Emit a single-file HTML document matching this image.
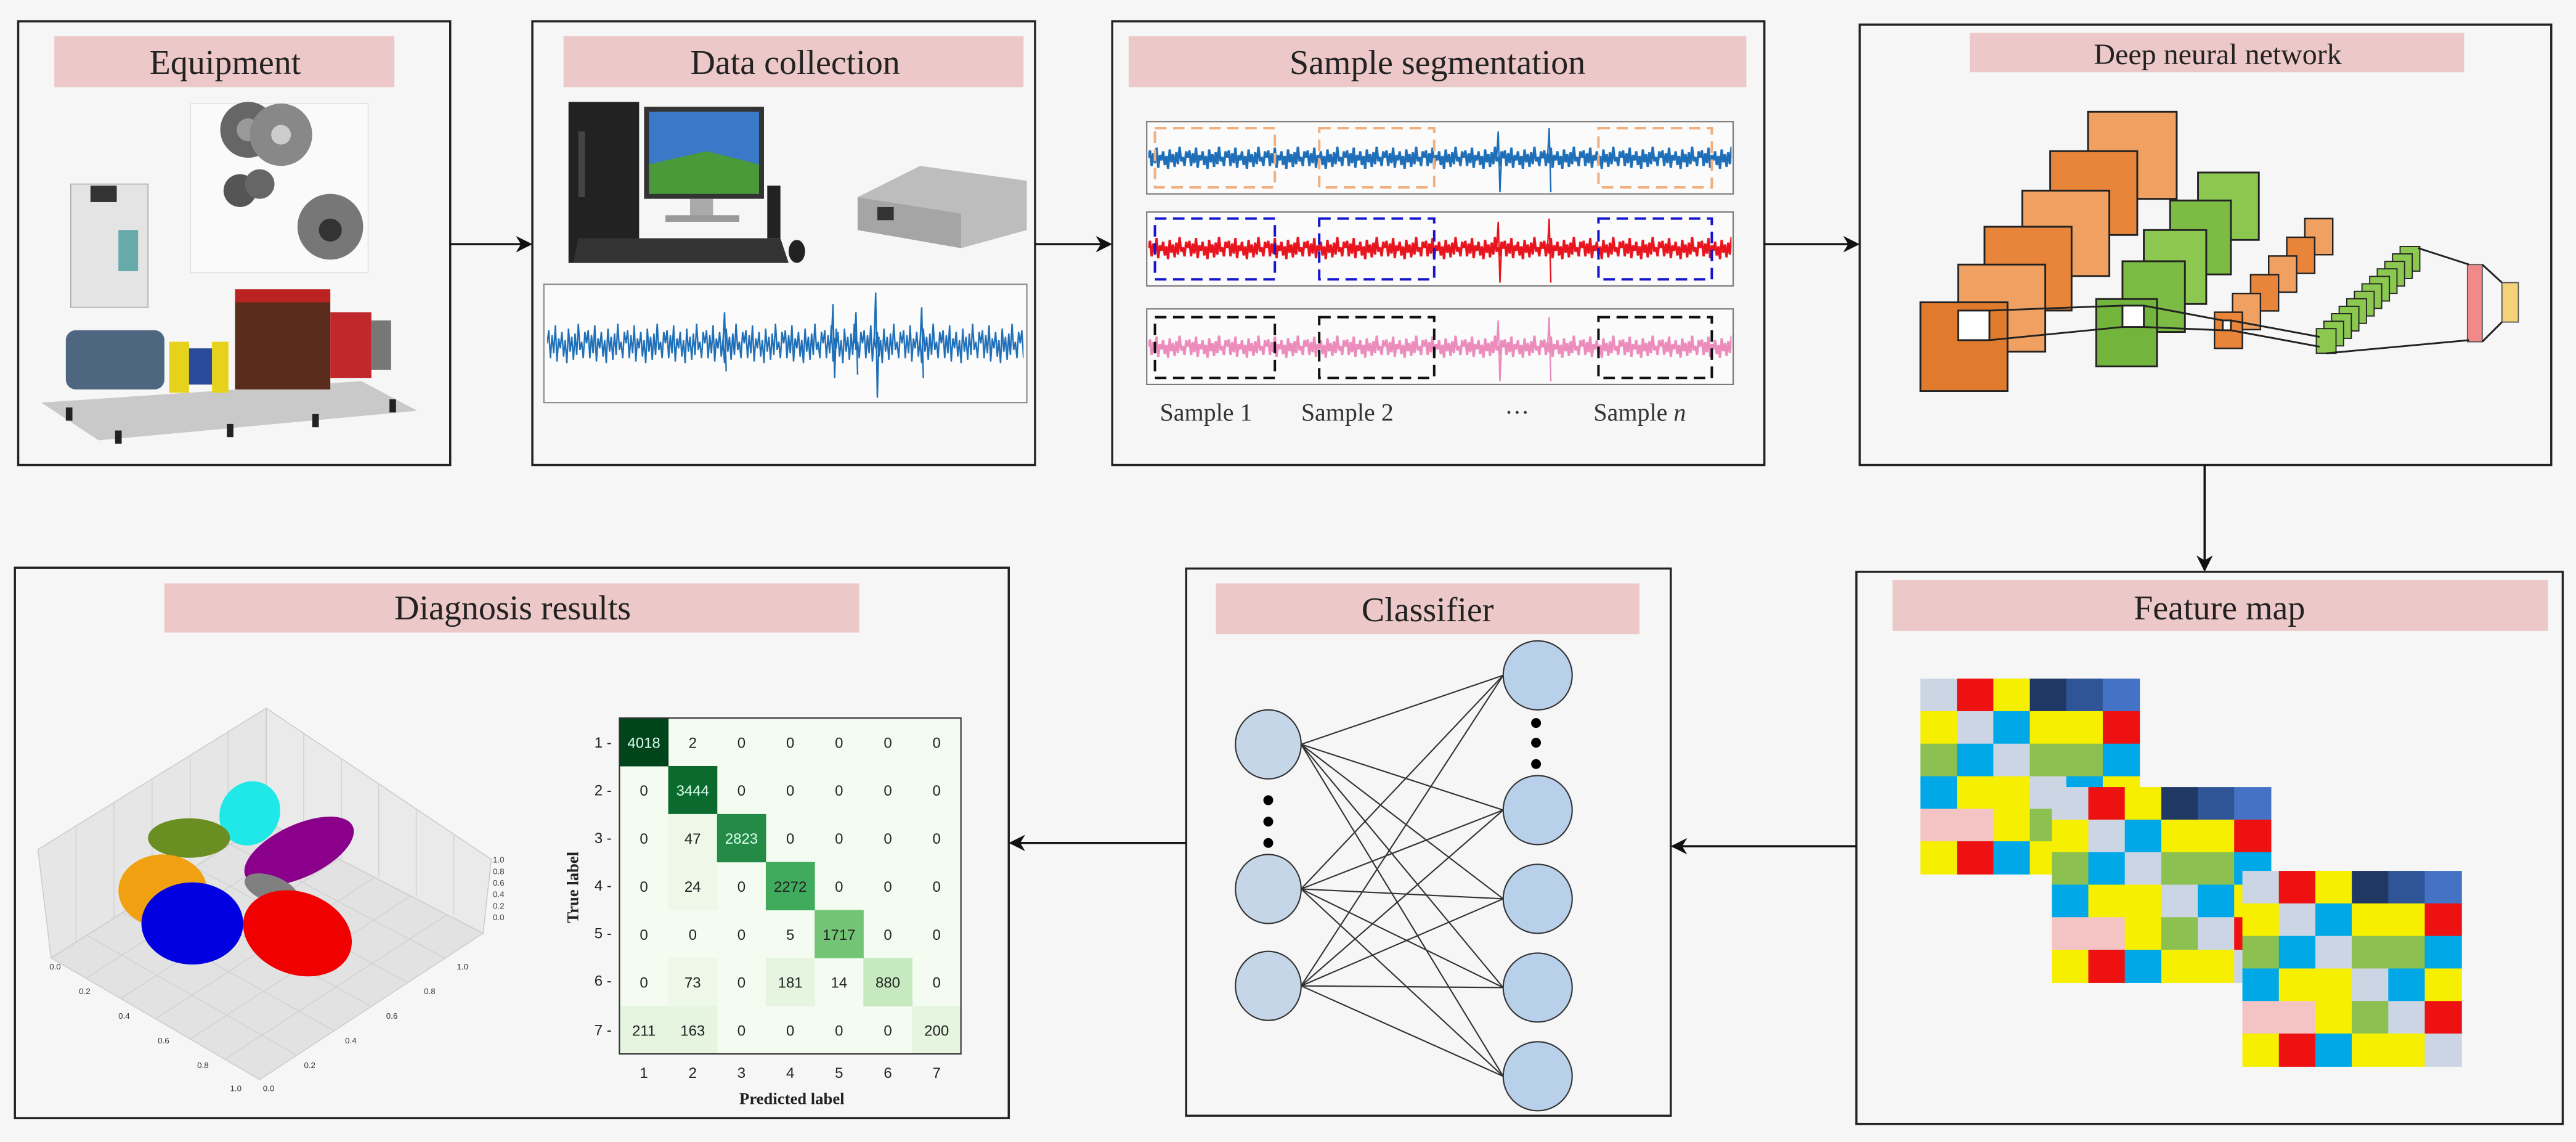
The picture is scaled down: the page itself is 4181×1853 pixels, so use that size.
<!DOCTYPE html>
<html><head><meta charset="utf-8">
<style>
html,body{margin:0;padding:0;background:#f6f6f6;}
svg{display:block;}
.t{font-family:"Liberation Serif",serif;font-size:21px;fill:#222;text-anchor:middle;}
.s{font-family:"Liberation Serif",serif;font-size:15px;fill:#333;}
.cm{font-family:"Liberation Sans",sans-serif;font-size:9px;text-anchor:middle;fill:#222;}
.cw{font-family:"Liberation Sans",sans-serif;font-size:9px;text-anchor:middle;fill:#dfe;}
.tk{font-family:"Liberation Sans",sans-serif;font-size:5px;fill:#333;}
</style></head>
<body>
<svg width="4181" height="1853" viewBox="0 0 1568 695" xmlns="http://www.w3.org/2000/svg" xmlns:xlink="http://www.w3.org/1999/xlink">
<defs>
<marker id="ah" markerWidth="10" markerHeight="10" refX="9" refY="5" orient="auto" markerUnits="userSpaceOnUse">
<path d="M0,0 L10,5 L0,10 L3,5 Z" fill="#111"/>
</marker>
<pattern id="pw1" patternUnits="userSpaceOnUse" x="333" y="193" width="24" height="32">
<polyline points="0,16 1,8 2,25 3,11 4,22 5,5 6,27 7,13 8,19 9,9 10,24 11,14 12,28 13,7 14,21 15,12 16,26 17,10 18,23 19,4 20,20 21,15 22,25 23,9 24,16" fill="none" stroke="#1f6fb8" stroke-width="0.9"/>
</pattern>
<pattern id="pb" patternUnits="userSpaceOnUse" x="699" y="87" width="24" height="18">
<polyline transform="scale(1,0.5625)" points="0,16 1,8 2,25 3,11 4,22 5,5 6,27 7,13 8,19 9,9 10,24 11,14 12,28 13,7 14,21 15,12 16,26 17,10 18,23 19,4 20,20 21,15 22,25 23,9 24,16" fill="none" stroke="#1f6fb8" stroke-width="1.4"/>
</pattern>
<pattern id="pr" patternUnits="userSpaceOnUse" x="699" y="142" width="24" height="18">
<polyline transform="scale(1,0.5625)" points="0,16 1,8 2,25 3,11 4,22 5,5 6,27 7,13 8,19 9,9 10,24 11,14 12,28 13,7 14,21 15,12 16,26 17,10 18,23 19,4 20,20 21,15 22,25 23,9 24,16" fill="none" stroke="#e8141e" stroke-width="1.4"/>
</pattern>
<pattern id="pp" patternUnits="userSpaceOnUse" x="699" y="202" width="24" height="18">
<polyline transform="scale(1,0.5625)" points="0,16 1,8 2,25 3,11 4,22 5,5 6,27 7,13 8,19 9,9 10,24 11,14 12,28 13,7 14,21 15,12 16,26 17,10 18,23 19,4 20,20 21,15 22,25 23,9 24,16" fill="none" stroke="#ec8cbc" stroke-width="1.4"/>
</pattern>
<g id="fmg">
<rect x="0" y="0" width="22.6" height="20.2" fill="#ccd5e3"/><rect x="22.2" y="0" width="22.6" height="20.2" fill="#ee1111"/><rect x="44.4" y="0" width="22.6" height="20.2" fill="#f6f000"/><rect x="66.6" y="0" width="22.6" height="20.2" fill="#1f3864"/><rect x="88.8" y="0" width="22.6" height="20.2" fill="#2f5597"/><rect x="111" y="0" width="22.6" height="20.2" fill="#4472c4"/>
<rect x="0" y="19.8" width="22.6" height="20.2" fill="#f6f000"/><rect x="22.2" y="19.8" width="22.6" height="20.2" fill="#ccd5e3"/><rect x="44.4" y="19.8" width="22.6" height="20.2" fill="#00a8e8"/><rect x="66.6" y="19.8" width="22.6" height="20.2" fill="#f6f000"/><rect x="88.8" y="19.8" width="22.6" height="20.2" fill="#f6f000"/><rect x="111" y="19.8" width="22.6" height="20.2" fill="#ee1111"/>
<rect x="0" y="39.6" width="22.6" height="20.2" fill="#8cc050"/><rect x="22.2" y="39.6" width="22.6" height="20.2" fill="#00a8e8"/><rect x="44.4" y="39.6" width="22.6" height="20.2" fill="#ccd5e3"/><rect x="66.6" y="39.6" width="22.6" height="20.2" fill="#8cc050"/><rect x="88.8" y="39.6" width="22.6" height="20.2" fill="#8cc050"/><rect x="111" y="39.6" width="22.6" height="20.2" fill="#00a8e8"/>
<rect x="0" y="59.4" width="22.6" height="20.2" fill="#00a8e8"/><rect x="22.2" y="59.4" width="22.6" height="20.2" fill="#f6f000"/><rect x="44.4" y="59.4" width="22.6" height="20.2" fill="#f6f000"/><rect x="66.6" y="59.4" width="22.6" height="20.2" fill="#ccd5e3"/><rect x="88.8" y="59.4" width="22.6" height="20.2" fill="#00a8e8"/><rect x="111" y="59.4" width="22.6" height="20.2" fill="#f6f000"/>
<rect x="0" y="79.2" width="22.6" height="20.2" fill="#f4c4c4"/><rect x="22.2" y="79.2" width="22.6" height="20.2" fill="#f4c4c4"/><rect x="44.4" y="79.2" width="22.6" height="20.2" fill="#f6f000"/><rect x="66.6" y="79.2" width="22.6" height="20.2" fill="#8cc050"/><rect x="88.8" y="79.2" width="22.6" height="20.2" fill="#ccd5e3"/><rect x="111" y="79.2" width="22.6" height="20.2" fill="#ee1111"/>
<rect x="0" y="99" width="22.6" height="20.2" fill="#f6f000"/><rect x="22.2" y="99" width="22.6" height="20.2" fill="#ee1111"/><rect x="44.4" y="99" width="22.6" height="20.2" fill="#00a8e8"/><rect x="66.6" y="99" width="22.6" height="20.2" fill="#f6f000"/><rect x="88.8" y="99" width="22.6" height="20.2" fill="#f6f000"/><rect x="111" y="99" width="22.6" height="20.2" fill="#ccd5e3"/>
</g>
</defs>
<rect width="1568" height="695" fill="#f6f6f6"/>

<!-- Boxes -->
<g fill="none" stroke="#222" stroke-width="1.3">
<rect x="11" y="13" width="263" height="270"/>
<rect x="324" y="13" width="306" height="270"/>
<rect x="677" y="13" width="397" height="270"/>
<rect x="1132" y="15" width="421" height="268"/>
<rect x="1130" y="348" width="430" height="336"/>
<rect x="722" y="346" width="295" height="333"/>
<rect x="9" y="345.5" width="605" height="335"/>
</g>

<!-- Title bands -->
<g fill="#ecc8c8">
<rect x="33" y="22" width="207" height="31"/>
<rect x="343" y="22" width="280" height="31"/>
<rect x="687" y="22" width="376" height="31"/>
<rect x="1199" y="20" width="301" height="24"/>
<rect x="1152" y="353" width="399" height="31"/>
<rect x="740" y="355" width="258" height="31"/>
<rect x="100" y="355" width="423" height="30"/>
</g>
<text class="t" x="137" y="45">Equipment</text>
<text class="t" x="484" y="45">Data collection</text>
<text class="t" x="875" y="45">Sample segmentation</text>
<text class="t" x="1350" y="39" style="font-size:18px">Deep neural network</text>
<text class="t" x="1351" y="377">Feature map</text>
<text class="t" x="869" y="378">Classifier</text>
<text class="t" x="312" y="377">Diagnosis results</text>

<!-- Arrows -->
<g stroke="#111" stroke-width="1.3" fill="none">
<line x1="274" y1="148.6" x2="323" y2="148.6" marker-end="url(#ah)"/>
<line x1="630" y1="148.6" x2="676" y2="148.6" marker-end="url(#ah)"/>
<line x1="1074" y1="148.6" x2="1131" y2="148.6" marker-end="url(#ah)"/>
<line x1="1342" y1="283" x2="1342" y2="347" marker-end="url(#ah)"/>
<line x1="1130" y1="515" x2="1018" y2="515" marker-end="url(#ah)"/>
<line x1="722" y1="513" x2="615" y2="513" marker-end="url(#ah)"/>
</g>

<!-- Equipment images -->
<rect x="116" y="63" width="108" height="103" fill="#fafafa" stroke="#ddd" stroke-width="0.5"/>
<circle cx="151" cy="79" r="17" fill="#666"/><circle cx="151" cy="79" r="7" fill="#999"/>
<circle cx="171" cy="82" r="19" fill="#888"/><circle cx="171" cy="82" r="6" fill="#ccc"/>
<circle cx="146" cy="116" r="10" fill="#555"/><circle cx="158" cy="112" r="9" fill="#666"/>
<circle cx="201" cy="138" r="20" fill="#777"/><circle cx="201" cy="140" r="7" fill="#333"/>
<polygon points="25,245 220,232 254,250 60,268" fill="#c9c9c9"/>
<rect x="43" y="112" width="47" height="75" fill="#e4e4e4" stroke="#aaa" stroke-width="0.6"/>
<rect x="55" y="113" width="16" height="10" fill="#333"/>
<rect x="72" y="140" width="12" height="25" fill="#6aa"/>
<rect x="40" y="201" width="60" height="36" rx="6" fill="#4e6680"/>
<rect x="103" y="208" width="12" height="31" fill="#e6d21a"/>
<rect x="115" y="212" width="14" height="22" fill="#2b4a9a"/>
<rect x="129" y="208" width="10" height="31" fill="#e6d21a"/>
<rect x="143" y="179" width="58" height="58" fill="#5a2c1c"/>
<rect x="143" y="176" width="58" height="8" fill="#b22"/>
<rect x="201" y="190" width="25" height="40" fill="#c0282c"/>
<rect x="226" y="195" width="12" height="30" fill="#777"/>
<g fill="#222"><rect x="40" y="248" width="4" height="8"/><rect x="70" y="262" width="4" height="8"/><rect x="138" y="258" width="4" height="8"/><rect x="190" y="252" width="4" height="8"/><rect x="237" y="243" width="4" height="8"/></g>

<!-- Data collection -->
<rect x="346" y="62" width="43" height="98" fill="#222"/>
<rect x="352" y="80" width="4" height="40" fill="#444"/>
<rect x="392" y="65" width="73" height="56" fill="#333"/>
<rect x="395" y="68" width="67" height="50" fill="#3a78c8"/>
<polygon points="395,100 430,92 462,100 462,118 395,118" fill="#4a9a3a"/>
<rect x="420" y="121" width="14" height="12" fill="#aaa"/>
<rect x="405" y="131" width="45" height="4" fill="#999"/>
<rect x="467" y="113" width="8" height="32" fill="#222"/>
<polygon points="352,145 475,145 480,160 349,160" fill="#333"/>
<ellipse cx="485" cy="153" rx="5" ry="7" fill="#222"/>
<polygon points="522,120 560,101 625,110 625,140 585,151 522,140" fill="#bdbdbd"/>
<polygon points="522,120 585,130 585,151 522,140" fill="#a5a5a5"/>
<rect x="534" y="126" width="10" height="8" fill="#333"/>
<rect x="331" y="173" width="294" height="72" fill="#fbfbfb" stroke="#888" stroke-width="0.8"/>
<rect x="333" y="193" width="290" height="32" fill="url(#pw1)"/>
<g stroke="#1f6fb8" stroke-width="0.9" fill="none">
<polyline points="506,209 507,185 508,230 509,200"/>
<polyline points="520,209 521,190 522,228"/>
<polyline points="532,209 533,178 534,242 535,205"/>
<polyline points="560,209 561,187 562,230"/>
<polyline points="440,209 441,190 442,226"/>
</g>

<!-- Sample segmentation -->
<rect x="698" y="74" width="357" height="44" fill="#fbfbfb" stroke="#777" stroke-width="0.8"/>
<rect x="698" y="129" width="357" height="45" fill="#fbfbfb" stroke="#777" stroke-width="0.8"/>
<rect x="698" y="188" width="357" height="46" fill="#fbfbfb" stroke="#777" stroke-width="0.8"/>
<rect x="699" y="87" width="355" height="18" fill="url(#pb)"/>
<rect x="699" y="142" width="355" height="18" fill="url(#pr)"/>
<rect x="699" y="202" width="355" height="18" fill="url(#pp)"/>
<g stroke-width="0.9" fill="none">
<polyline stroke="#1f6fb8" points="911,96 912,80 913,117 914,96 942,96 943,78 944,117"/>
<polyline stroke="#e8141e" points="911,151 912,135 913,172 914,151 942,151 943,133 944,172"/>
<polyline stroke="#ec8cbc" points="911,211 912,195 913,232 914,211 942,211 943,193 944,232"/>
</g>
<g fill="none" stroke-width="1.5" stroke-dasharray="7,4">
<g stroke="#f0b080"><rect x="703" y="78" width="73" height="36"/><rect x="803" y="78" width="70" height="36"/><rect x="973" y="78" width="69" height="36"/></g>
<g stroke="#1515d0"><rect x="703" y="133" width="73" height="37"/><rect x="803" y="133" width="70" height="37"/><rect x="973" y="133" width="69" height="37"/></g>
<g stroke="#111"><rect x="703" y="193" width="73" height="37"/><rect x="803" y="193" width="70" height="37"/><rect x="973" y="193" width="69" height="37"/></g>
</g>
<text class="s" x="706" y="256">Sample 1</text>
<text class="s" x="792" y="256">Sample 2</text>
<text class="s" x="916" y="256">···</text>
<text class="s" x="970" y="256">Sample <tspan font-style="italic">n</tspan></text>

<!-- DNN -->
<g stroke="#222" stroke-width="1.1">
<rect x="1271" y="68" width="54" height="53" fill="#f0a060"/>
<rect x="1248" y="92" width="53" height="51" fill="#e8853a"/>
<rect x="1231" y="116" width="53" height="52" fill="#f0a060"/>
<rect x="1208" y="138" width="53" height="51" fill="#e8853a"/>
<rect x="1192" y="161" width="53" height="53" fill="#f0a060"/>
<rect x="1169" y="184" width="53" height="54" fill="#e07b2e"/>
<rect x="1338" y="105" width="37" height="41" fill="#8cc850"/>
<rect x="1321" y="122" width="37" height="45" fill="#7cbc44"/>
<rect x="1305" y="140" width="38" height="45" fill="#8cc850"/>
<rect x="1292" y="159" width="38" height="43" fill="#7cbc44"/>
<rect x="1276" y="182" width="37" height="41" fill="#72b43c"/>
</g>
<g stroke="#222" stroke-width="0.9">
<rect x="1403" y="133" width="17" height="22" fill="#f0a060"/>
<rect x="1392" y="144.4" width="17" height="22" fill="#e8853a"/>
<rect x="1381" y="155.8" width="17" height="22" fill="#f0a060"/>
<rect x="1370" y="167.2" width="17" height="22" fill="#e8853a"/>
<rect x="1359" y="178.6" width="17" height="22" fill="#f0a060"/>
<rect x="1348" y="190" width="17" height="22" fill="#e8853a"/>
</g>
<g stroke="#222" stroke-width="0.7" fill="#8cc850">
<rect x="1461" y="150" width="12" height="15"/>
<rect x="1456.4" y="154.5" width="12" height="15"/>
<rect x="1451.7" y="159.1" width="12" height="15"/>
<rect x="1447.1" y="163.6" width="12" height="15"/>
<rect x="1442.5" y="168.2" width="12" height="15"/>
<rect x="1437.8" y="172.7" width="12" height="15"/>
<rect x="1433.2" y="177.3" width="12" height="15"/>
<rect x="1428.5" y="181.8" width="12" height="15"/>
<rect x="1423.9" y="186.4" width="12" height="15"/>
<rect x="1419.3" y="190.9" width="12" height="15"/>
<rect x="1414.6" y="195.5" width="12" height="15"/>
<rect x="1410" y="200" width="12" height="15"/>
</g>
<rect x="1502" y="161" width="9" height="47" fill="#f08a8a" stroke="#555" stroke-width="0.7"/>
<rect x="1523" y="172" width="10" height="24" fill="#f4d27a" stroke="#555" stroke-width="0.7"/>
<g stroke="#222" stroke-width="1.1" fill="none">
<line x1="1472" y1="151" x2="1503" y2="161"/>
<line x1="1416" y1="215" x2="1503" y2="207"/>
<line x1="1511" y1="161" x2="1523" y2="172"/>
<line x1="1511" y1="208" x2="1523" y2="196"/>
<rect x="1192" y="189" width="19" height="18" fill="#fff"/>
<rect x="1292" y="186" width="13" height="13" fill="#fff"/>
<rect x="1353" y="195" width="5" height="6" fill="#fff"/>
<line x1="1211" y1="189" x2="1292" y2="186"/>
<line x1="1211" y1="207" x2="1292" y2="199"/>
<line x1="1305" y1="186" x2="1353" y2="195"/>
<line x1="1305" y1="199" x2="1353" y2="201"/>
<line x1="1358" y1="195" x2="1412" y2="205"/>
<line x1="1358" y1="201" x2="1412" y2="211"/>
</g>

<!-- Feature maps -->
<use xlink:href="#fmg" href="#fmg" x="1169" y="413"/>
<use xlink:href="#fmg" href="#fmg" x="1249" y="479"/>
<use xlink:href="#fmg" href="#fmg" x="1365" y="530"/>

<!-- Classifier -->
<g stroke="#333" stroke-width="0.8">
<line x1="792" y1="453" x2="915" y2="411"/><line x1="792" y1="453" x2="915" y2="493"/><line x1="792" y1="453" x2="915" y2="547"/><line x1="792" y1="453" x2="915" y2="601"/><line x1="792" y1="453" x2="915" y2="655"/>
<line x1="792" y1="541" x2="915" y2="411"/><line x1="792" y1="541" x2="915" y2="493"/><line x1="792" y1="541" x2="915" y2="547"/><line x1="792" y1="541" x2="915" y2="601"/><line x1="792" y1="541" x2="915" y2="655"/>
<line x1="792" y1="600" x2="915" y2="411"/><line x1="792" y1="600" x2="915" y2="493"/><line x1="792" y1="600" x2="915" y2="547"/><line x1="792" y1="600" x2="915" y2="601"/><line x1="792" y1="600" x2="915" y2="655"/>
<ellipse cx="772" cy="453" rx="20" ry="21" fill="#c4d6e8"/>
<ellipse cx="772" cy="541" rx="20" ry="21" fill="#c4d6e8"/>
<ellipse cx="772" cy="600" rx="20" ry="21" fill="#c4d6e8"/>
<ellipse cx="936" cy="411" rx="21" ry="21" fill="#b8d0ea"/>
<ellipse cx="936" cy="493" rx="21" ry="21" fill="#b8d0ea"/>
<ellipse cx="936" cy="547" rx="21" ry="21" fill="#b8d0ea"/>
<ellipse cx="936" cy="601" rx="21" ry="21" fill="#b8d0ea"/>
<ellipse cx="936" cy="655" rx="21" ry="21" fill="#b8d0ea"/>
</g>
<g fill="#000">
<circle cx="772" cy="487" r="3"/><circle cx="772" cy="500" r="3"/><circle cx="772" cy="513" r="3"/>
<circle cx="935" cy="440" r="3"/><circle cx="935" cy="452" r="3"/><circle cx="935" cy="465" r="3"/>
</g>

<!-- Diagnosis: 3D scatter -->
<polygon points="162,431 23,517 31,583 162,500" fill="#e6e6e6" stroke="#ccc" stroke-width="0.6"/>
<polygon points="162,431 299,523 294,568 162,500" fill="#eaeaea" stroke="#ccc" stroke-width="0.6"/>
<polygon points="162,500 31,583 158,657 294,568" fill="#e2e2e2" stroke="#ccc" stroke-width="0.6"/>
<g stroke="#cfcfcf" stroke-width="0.5">
<line x1="138.8" y1="445.3" x2="138.8" y2="514.7"/><line x1="115.7" y1="459.7" x2="115.7" y2="529.3"/><line x1="92.5" y1="474" x2="92.5" y2="544"/><line x1="69.3" y1="488.3" x2="69.3" y2="558.7"/><line x1="46.2" y1="502.7" x2="46.2" y2="573"/>
<line x1="184.8" y1="446.3" x2="184.8" y2="511.3"/><line x1="207.7" y1="461.7" x2="207.7" y2="522.7"/><line x1="230.5" y1="477" x2="230.5" y2="534"/><line x1="253.3" y1="492.3" x2="253.3" y2="545.3"/><line x1="276.2" y1="507.7" x2="276.2" y2="556.7"/>
<line x1="140.2" y1="513.8" x2="270.3" y2="582.8"/><line x1="118.3" y1="527.7" x2="247.7" y2="597.7"/><line x1="96.5" y1="541.5" x2="226" y2="612.5"/><line x1="74.7" y1="555.3" x2="203.3" y2="627.3"/><line x1="52.8" y1="569.2" x2="180.7" y2="642.2"/>
<line x1="184" y1="511.3" x2="52.2" y2="595.3"/><line x1="206" y1="522.7" x2="73.3" y2="607.7"/><line x1="228" y1="534" x2="94.5" y2="620"/><line x1="250" y1="545.3" x2="115.7" y2="632.3"/><line x1="272" y1="556.7" x2="136.8" y2="644.7"/>
</g>
<g>
<ellipse cx="152" cy="495" rx="20" ry="18" fill="#20e8e8" transform="rotate(-60 152 495)"/>
<ellipse cx="115" cy="510" rx="25" ry="12" fill="#6b8e23"/>
<ellipse cx="182" cy="518" rx="36" ry="16" fill="#8b008b" transform="rotate(-25 182 518)"/>
<ellipse cx="99" cy="542" rx="27" ry="22" fill="#f0a010"/>
<ellipse cx="165" cy="541" rx="17" ry="8" fill="#808080" transform="rotate(20 165 541)"/>
<ellipse cx="117" cy="562" rx="31" ry="25" fill="#0000e0"/>
<ellipse cx="181" cy="568" rx="34" ry="25" fill="#f00000" transform="rotate(20 181 568)"/>
</g>
<g class="tk">
<text x="30" y="590">0.0</text><text x="48" y="605">0.2</text><text x="72" y="620">0.4</text><text x="96" y="635">0.6</text><text x="120" y="650">0.8</text><text x="140" y="664">1.0</text>
<text x="160" y="664">0.0</text><text x="185" y="650">0.2</text><text x="210" y="635">0.4</text><text x="235" y="620">0.6</text><text x="258" y="605">0.8</text><text x="278" y="590">1.0</text>
<text x="300" y="560">0.0</text><text x="300" y="553">0.2</text><text x="300" y="546">0.4</text><text x="300" y="539">0.6</text><text x="300" y="532">0.8</text><text x="300" y="525">1.0</text>
</g>

<!-- Confusion matrix -->
<rect x="377" y="437" width="207.9" height="204.4" fill="#f4fbf1"/>
<rect x="377" y="437" width="29.9" height="29.4" fill="#00441b"/>
<rect x="406.7" y="466.2" width="29.9" height="29.4" fill="#0b6b2e"/>
<rect x="406.7" y="495.4" width="29.9" height="29.4" fill="#edf8e9"/>
<rect x="436.4" y="495.4" width="29.9" height="29.4" fill="#238b45"/>
<rect x="406.7" y="524.6" width="29.9" height="29.4" fill="#edf8e9"/>
<rect x="466.1" y="524.6" width="29.9" height="29.4" fill="#41ab5d"/>
<rect x="495.8" y="553.8" width="29.9" height="29.4" fill="#74c476"/>
<rect x="406.7" y="583" width="29.9" height="29.4" fill="#edf8e9"/>
<rect x="466.1" y="583" width="29.9" height="29.4" fill="#e5f5e0"/>
<rect x="525.5" y="583" width="29.9" height="29.4" fill="#c7e9c0"/>
<rect x="377" y="612.2" width="29.9" height="29.4" fill="#e5f5e0"/>
<rect x="406.7" y="612.2" width="29.9" height="29.4" fill="#e5f5e0"/>
<rect x="555.2" y="612.2" width="29.9" height="29.4" fill="#e5f5e0"/>
<rect x="377" y="437" width="207.9" height="204.4" fill="none" stroke="#333" stroke-width="0.8"/>
<g>
<text class="cw" x="391.9" y="455.1">4018</text><text class="cm" x="421.6" y="455.1">2</text><text class="cm" x="451.3" y="455.1">0</text><text class="cm" x="481" y="455.1">0</text><text class="cm" x="510.7" y="455.1">0</text><text class="cm" x="540.4" y="455.1">0</text><text class="cm" x="570.1" y="455.1">0</text>
<text class="cm" x="391.9" y="484.3">0</text><text class="cw" x="421.6" y="484.3">3444</text><text class="cm" x="451.3" y="484.3">0</text><text class="cm" x="481" y="484.3">0</text><text class="cm" x="510.7" y="484.3">0</text><text class="cm" x="540.4" y="484.3">0</text><text class="cm" x="570.1" y="484.3">0</text>
<text class="cm" x="391.9" y="513.5">0</text><text class="cm" x="421.6" y="513.5">47</text><text class="cw" x="451.3" y="513.5">2823</text><text class="cm" x="481" y="513.5">0</text><text class="cm" x="510.7" y="513.5">0</text><text class="cm" x="540.4" y="513.5">0</text><text class="cm" x="570.1" y="513.5">0</text>
<text class="cm" x="391.9" y="542.7">0</text><text class="cm" x="421.6" y="542.7">24</text><text class="cm" x="451.3" y="542.7">0</text><text class="cm" x="481" y="542.7">2272</text><text class="cm" x="510.7" y="542.7">0</text><text class="cm" x="540.4" y="542.7">0</text><text class="cm" x="570.1" y="542.7">0</text>
<text class="cm" x="391.9" y="571.9">0</text><text class="cm" x="421.6" y="571.9">0</text><text class="cm" x="451.3" y="571.9">0</text><text class="cm" x="481" y="571.9">5</text><text class="cm" x="510.7" y="571.9">1717</text><text class="cm" x="540.4" y="571.9">0</text><text class="cm" x="570.1" y="571.9">0</text>
<text class="cm" x="391.9" y="601.1">0</text><text class="cm" x="421.6" y="601.1">73</text><text class="cm" x="451.3" y="601.1">0</text><text class="cm" x="481" y="601.1">181</text><text class="cm" x="510.7" y="601.1">14</text><text class="cm" x="540.4" y="601.1">880</text><text class="cm" x="570.1" y="601.1">0</text>
<text class="cm" x="391.9" y="630.3">211</text><text class="cm" x="421.6" y="630.3">163</text><text class="cm" x="451.3" y="630.3">0</text><text class="cm" x="481" y="630.3">0</text><text class="cm" x="510.7" y="630.3">0</text><text class="cm" x="540.4" y="630.3">0</text><text class="cm" x="570.1" y="630.3">200</text>
</g>
<g>
<text class="cm" x="367" y="455">1 -</text><text class="cm" x="367" y="484">2 -</text><text class="cm" x="367" y="513">3 -</text><text class="cm" x="367" y="542">4 -</text><text class="cm" x="367" y="571">5 -</text><text class="cm" x="367" y="600">6 -</text><text class="cm" x="367" y="630">7 -</text>
<text class="cm" x="391.9" y="656">1</text><text class="cm" x="421.6" y="656">2</text><text class="cm" x="451.3" y="656">3</text><text class="cm" x="481" y="656">4</text><text class="cm" x="510.7" y="656">5</text><text class="cm" x="540.4" y="656">6</text><text class="cm" x="570.1" y="656">7</text>
</g>
<text x="352" y="540" transform="rotate(-90 352 540)" style="font-family:'Liberation Serif',serif;font-size:10px;font-weight:bold;text-anchor:middle;fill:#222">True label</text>
<text x="482" y="672" style="font-family:'Liberation Serif',serif;font-size:10px;font-weight:bold;text-anchor:middle;fill:#222">Predicted label</text>
</svg>
</body></html>
